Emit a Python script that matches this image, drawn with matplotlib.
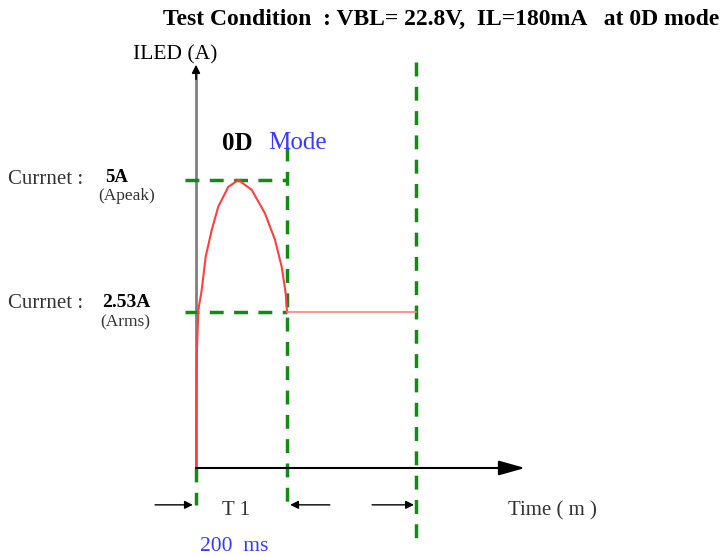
import matplotlib.pyplot as plt

# waveform (time in ms, current in A) - schematic drawing
t_pulse = [0, 0, 1.5, 5.1, 12.5, 21.3, 34.5, 49.0, 71.0, 93.0, 122.4, 151.6, 173.6, 188.4, 197.1, 200]
i_pulse = [0, 0.78, 1.93, 2.74, 3.09, 3.67, 4.13, 4.54, 4.88, 5.0, 4.83, 4.42, 3.96, 3.49, 3.03, 2.71]
t_hold = [200, 483.5]
i_peak = 5.0
i_rms_level = 2.71   # drawn level for 2.53A (schematic)
t1 = 200
t_end = 483.5
t_axis_end = 723

fig = plt.figure(figsize=(7.28, 5.56), dpi=100)
ax = fig.add_axes([0, 0, 1, 1])
ax.set_xlim(-430.8, 1169.2)
ax.set_ylim(-1.528, 8.125)
ax.axis("off")

serif = "Liberation Serif"
green = "#138a13"
dash = (0, (4, 3))

# axes of the sketch
ax.plot([0, 0], [0, 6.9], color="#808080", lw=2)
ax.annotate("", xy=(0, 7.05), xytext=(0, 6.7),
            arrowprops=dict(arrowstyle="-|>", color="black", lw=1.2, mutation_scale=12))
ax.annotate("", xy=(t_axis_end, 0), xytext=(0, 0),
            arrowprops=dict(arrowstyle="-|>,head_length=1.6,head_width=0.45",
                            color="black", lw=1.5, shrinkA=0, shrinkB=0))

# green guide lines
ax.plot([-24, t1], [i_peak, i_peak], color=green, lw=2.5, ls=dash)
ax.plot([-24, t1], [i_rms_level, i_rms_level], color=green, lw=2.5, ls=dash)
ax.plot([t1, t1], [5.57, -0.64], color=green, lw=2.5, ls=dash)
ax.plot([t_end, t_end], [7.05, -1.25], color=green, lw=2.5, ls=dash)
ax.plot([0, 0], [0, -0.64], color=green, lw=2.5, ls=dash)

# current waveform
ax.plot(t_pulse, i_pulse, color="#ff4040", lw=1.5)
ax.plot(t_hold, [i_rms_level, i_rms_level], color="#ff8080", lw=1.2)

# bottom arrows
for x0, x1 in [(-90, -7), (294, 207), (387, 479)]:
    ax.annotate("", xy=(x1, -0.64), xytext=(x0, -0.64),
                arrowprops=dict(arrowstyle="-|>", color="black", lw=1, mutation_scale=12,
                                shrinkA=0, shrinkB=0))

# texts
ax.text(-72.5, 7.78, "Test Condition  : VBL= 22.8V,  IL=180mA   at 0D mode",
        family=serif, fontweight="bold", fontsize=17, va="center", ha="left")
ax.text(-138, 7.17, "ILED (A)", family=serif, fontsize=15.5, va="center", ha="left")
ax.text(57, 5.64, "0D", family=serif, fontweight="bold", fontsize=18, va="center", ha="left")
ax.text(158, 5.64, "Mode", family=serif, color="#3a3aff", fontsize=18, va="center", ha="left")
ax.text(-413, 5.0, "Currnet :", family=serif, color="#333333", fontsize=15, va="center", ha="left")
ax.text(-200, 5.05, "5A", family=serif, fontweight="bold", fontsize=13.5, va="center", ha="left")
ax.text(-215, 4.72, "(Apeak)", family=serif, color="#333333", fontsize=12.5, va="center", ha="left")
ax.text(-413, 2.86, "Currnet :", family=serif, color="#333333", fontsize=15, va="center", ha="left")
ax.text(-207, 2.88, "2.53A", family=serif, fontweight="bold", fontsize=14, va="center", ha="left")
ax.text(-211, 2.53, "(Arms)", family=serif, color="#333333", fontsize=12.5, va="center", ha="left")
ax.text(57, -0.73, "T 1", family=serif, color="#333333", fontsize=15, va="center", ha="left")
ax.text(9, -1.37, "200  ms", family=serif, color="#3a3aff", fontsize=15.5, va="center", ha="left")
ax.text(686, -0.75, "Time ( m )", family=serif, color="#333333", fontsize=15, va="center", ha="left")

fig.savefig("out.png", dpi=100)
